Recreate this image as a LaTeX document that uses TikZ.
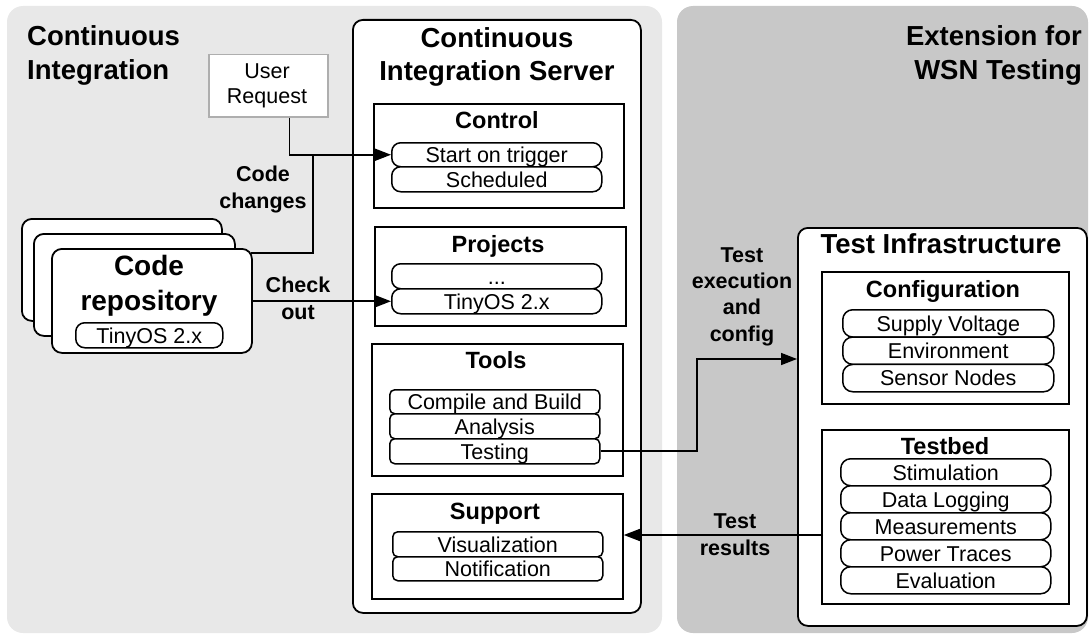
\documentclass[tikz,border=0pt]{standalone}
\usepackage{fontspec}
\setmainfont{Liberation Sans}
\usetikzlibrary{arrows.meta}
\definecolor{panelA}{HTML}{E8E8E8}
\definecolor{panelB}{HTML}{C8C8C8}
\definecolor{reqgray}{HTML}{AEAEAE}
\newcommand\bigfont{\fontsize{27.5}{35}\bfseries\selectfont}
\newcommand\srvfont{\fontsize{27.5}{33}\bfseries\selectfont}
\newcommand\subfont{\fontsize{23.5}{28}\bfseries\selectfont}
\newcommand\lblfont{\fontsize{21.5}{26.3}\bfseries\selectfont}
\newcommand\txtfont{\fontsize{21.5}{25}\selectfont}
\begin{document}
\begin{tikzpicture}[x=1pt,y=-1pt,
  frame/.style={draw, line width=1.8pt, fill=white, inner sep=0pt, anchor=north west},
  rframe/.style={frame, rounded corners=10pt},
  pill/.style={draw, line width=1.5pt, rounded corners=9pt, fill=white, inner sep=0pt,
    anchor=north west, text height=15.5pt, text depth=0pt, font=\txtfont},
  tpill/.style={pill, rounded corners=5pt},
  title/.style={inner sep=0pt, anchor=base, align=center},
  arr/.style={line width=1.6pt, -{Triangle[length=16pt,width=12pt]}},
  link/.style={line width=1.6pt}]

\useasboundingbox (0,0) rectangle (1092,634);

% background areas (multi-line titles are placed by the baseline of their last line)
\fill[panelA, rounded corners=16pt] (7,6) rectangle (662,633);
\fill[panelB, rounded corners=16pt] (677,6) rectangle (1088,633);
\node[title, anchor=base west, align=left, font=\bigfont] (ciTitle) at (27,80) {Continuous\\Integration};
\node[title, anchor=base east, align=right, font=\bigfont] (extTitle) at (1082,80) {Extension for\\WSN Testing};

% user request
\node[frame, draw=reqgray, line width=1.5pt, minimum width=119pt, minimum height=62pt] (ur) at (208,54) {};
\node[title, font=\txtfont] (urText) at (267,103) {User\\Request};

% code repository stack
\node[rframe, minimum width=200pt, minimum height=102pt] (repoC) at (21,218) {};
\node[rframe, minimum width=201pt, minimum height=102pt] (repoB) at (33,233) {};
\node[rframe, minimum width=200pt, minimum height=104pt] (repoA) at (51,248) {};
\node[title, font=\fontsize{28}{35}\bfseries\selectfont] (repoText) at (149,310) {Code\\repository};
\node[pill, minimum width=147pt, minimum height=25pt] (repoOS) at (75,322) {TinyOS 2.x};

% continuous integration server
\node[rframe, minimum width=288pt, minimum height=593pt] (cis) at (352,19) {};
\node[title, font=\srvfont] (cisTitle) at (497,81) {Continuous\\Integration Server};

\node[frame, minimum width=250pt, minimum height=104pt] (control) at (373,103) {};
\node[title, font=\subfont] (controlTitle) at (497,128) {Control};
\node[pill, minimum width=210pt, minimum height=24pt] (start) at (391,142) {Start on trigger};
\node[pill, minimum width=210pt, minimum height=25pt] (sched) at (391,166) {Scheduled};

\node[frame, minimum width=251pt, minimum height=99pt] (projects) at (374,226) {};
\node[title, font=\subfont] (projectsTitle) at (498,252) {Projects};
\node[pill, minimum width=210pt, minimum height=25pt] (more) at (391,263) {...};
\node[pill, minimum width=210pt, minimum height=25pt] (tinyos) at (391,288) {TinyOS 2.x};

\node[frame, minimum width=251pt, minimum height=132pt] (tools) at (371,343) {};
\node[title, font=\subfont] (toolsTitle) at (496,368) {Tools};
\node[tpill, minimum width=210pt, minimum height=24pt] (compile) at (389,389) {Compile and Build};
\node[tpill, minimum width=210pt, minimum height=25pt] (analysis) at (389,413) {Analysis};
\node[tpill, minimum width=210pt, minimum height=25pt] (testing) at (389,438) {Testing};

\node[frame, minimum width=251pt, minimum height=105pt] (support) at (371,493) {};
\node[title, font=\subfont] (supportTitle) at (495,519) {Support};
\node[tpill, minimum width=210pt, minimum height=25pt] (visual) at (392,531) {Visualization};
\node[tpill, minimum width=210pt, minimum height=24pt] (notify) at (392,556) {Notification};

% test infrastructure
\node[rframe, minimum width=289pt, minimum height=398pt] (ti) at (797,227) {};
\node[title, font=\bigfont] (tiTitle) at (941,253) {Test Infrastructure};

\node[frame, minimum width=247pt, minimum height=132pt] (config) at (821,271) {};
\node[title, font=\subfont] (configTitle) at (943,297) {Configuration};
\node[pill, rounded corners=10pt, minimum width=211pt, minimum height=27.3pt] (supply) at (842,309) {Supply Voltage};
\node[pill, rounded corners=10pt, minimum width=211pt, minimum height=27.3pt] (env) at (842,336.3) {Environment};
\node[pill, rounded corners=10pt, minimum width=211pt, minimum height=27.3pt] (sensor) at (842,363.7) {Sensor Nodes};

\node[frame, minimum width=247pt, minimum height=174pt] (testbed) at (821,429) {};
\node[title, font=\subfont] (testbedTitle) at (945,454) {Testbed};
\node[pill, rounded corners=10pt, minimum width=210pt, minimum height=27pt] (stim) at (840,458) {Stimulation};
\node[pill, rounded corners=10pt, minimum width=210pt, minimum height=27pt] (logging) at (840,485) {Data Logging};
\node[pill, rounded corners=10pt, minimum width=210pt, minimum height=27pt] (measure) at (840,512) {Measurements};
\node[pill, rounded corners=10pt, minimum width=210pt, minimum height=27pt] (power) at (840,539) {Power Traces};
\node[pill, rounded corners=10pt, minimum width=210pt, minimum height=27pt] (eval) at (840,566) {Evaluation};

% connectors
\coordinate (join) at (313,154);
\draw[link] (repoA.north east) ++(-2,5) -| (join);
\draw[arr] (ur.south east) ++(-39,0) |- (start.west);
\draw[arr] (repoA.east |- tinyos.west) -- (tinyos.west);
\coordinate (bend) at (697,359);
\draw[arr] (testing.east) -| (bend) -- (bend -| ti.west);
\coordinate (res) at (823,535);
\draw[arr, line width=1.3pt] (res) -- (res -| support.east);

% connector labels
\node[title, font=\lblfont] (lblChanges) at (263,208) {Code\\changes};
\node[title, font=\lblfont] (lblCheckout) at (298,319) {Check\\out};
\node[title, font=\lblfont] (lblExec) at (742,341) {Test\\execution\\and\\config};
\node[title, font=\lblfont] (lblResults) at (735,555) {Test\\results};
\end{tikzpicture}
\end{document}
